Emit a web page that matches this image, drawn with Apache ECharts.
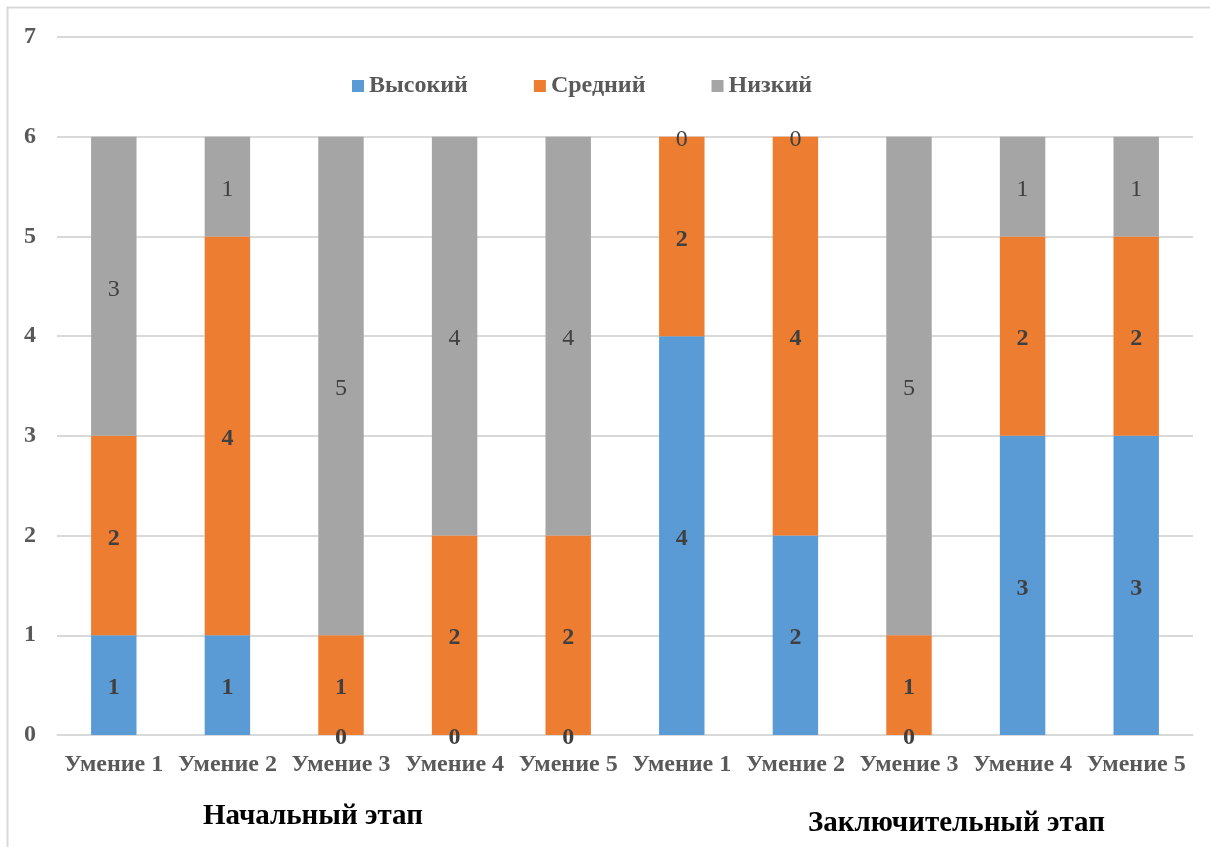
<!DOCTYPE html>
<html><head><meta charset="utf-8">
<script src="https://cdn.jsdelivr.net/npm/echarts@6/dist/echarts.min.js"></script>
<style>html,body{margin:0;padding:0;background:#fff}#c{width:1210px;height:847px}</style>
</head><body><div id="c"></div>
<script>
var categories = ['Умение 1','Умение 2','Умение 3','Умение 4','Умение 5','Умение 1','Умение 2','Умение 3','Умение 4','Умение 5'];
var high = [1,1,0,0,0,4,2,0,3,3];
var mid  = [2,4,1,2,2,2,4,1,2,2];
var low  = [3,1,5,4,4,0,0,5,1,1];
var yTicks = [0,1,2,3,4,5,6,7];
var stageLabels = ['Начальный этап','Заключительный этап'];

var FONT = '"Liberation Serif","Times New Roman",serif';
var chart = echarts.init(document.getElementById('c'));
function lbl(bold){
  return {show:true, position:'inside', offset:[0,3], fontFamily:FONT, fontSize:24,
    fontWeight: bold?'bold':'normal', color:'#404040'};
}
chart.setOption({
  animation:false,
  grid:{left:57, right:17, top:37, bottom:112, containLabel:false},
  legend:{top:74, left:352, padding:0, itemWidth:12, itemHeight:12, itemGap:66,
    icon:'rect',
    textStyle:{fontFamily:FONT, fontSize:24, fontWeight:'bold', color:'#595959'},
    data:['Высокий','Средний','Низкий']},
  xAxis:{type:'category', data:categories,
    axisLine:{show:true, lineStyle:{color:'#d9d9d9', width:1}},
    axisTick:{show:false},
    axisLabel:{fontFamily:FONT, fontSize:24, fontWeight:'bold', color:'#595959', margin:18, interval:0}},
  yAxis:{type:'value', min:0, max:7, interval:1,
    axisLine:{show:false}, axisTick:{show:false},
    splitLine:{lineStyle:{color:'#d9d9d9', width:2}},
    axisLabel:{fontFamily:FONT, fontSize:24, fontWeight:'bold', color:'#595959', margin:21,
      formatter:function(v){return yTicks.indexOf(v)>=0?String(v):'';}}},
  series:[
    {name:'Высокий', type:'bar', stack:'s', barWidth:'40%', data:high,
      itemStyle:{color:'#5B9BD5'}, label:lbl(true)},
    {name:'Средний', type:'bar', stack:'s', barWidth:'40%', data:mid,
      itemStyle:{color:'#ED7D31'}, label:lbl(true)},
    {name:'Низкий', type:'bar', stack:'s', barWidth:'40%', data:low,
      itemStyle:{color:'#A5A5A5'}, label:lbl(false)}
  ],
  graphic:[
    {type:'rect', shape:{x:7.5,y:7.5,width:1220,height:900}, style:{fill:null, stroke:'#d9d9d9', lineWidth:2}, silent:true},
    {type:'text', left:203, top:802, style:{text:stageLabels[0], fontFamily:FONT, fontSize:29, fontWeight:'bold', fill:'#000'}},
    {type:'text', left:808, top:809, style:{text:stageLabels[1], fontFamily:FONT, fontSize:29, fontWeight:'bold', fill:'#000'}}
  ]
});
</script></body></html>
